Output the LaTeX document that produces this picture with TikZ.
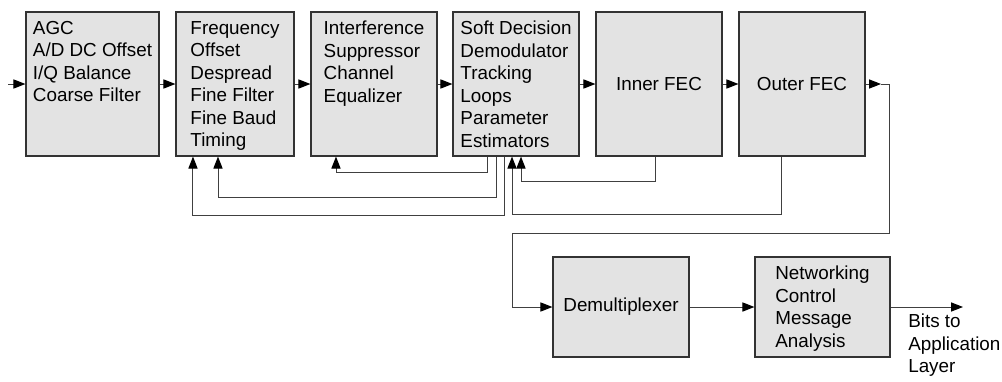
\documentclass[tikz,border=0pt]{standalone}
\usepackage{fontspec}
\setmainfont{Liberation Sans}
\usetikzlibrary{arrows.meta}

\tikzset{
  blk/.style={draw=black!80, line width=0.8pt, fill=black!11, inner sep=0pt},
  txt/.style={align=left, inner sep=0pt, anchor=north, font=\fontsize{13.4}{16}\selectfont},
  wire/.style={draw=black!75, line width=0.7pt},
  arr/.style={wire, -{Triangle[length=8.5pt,width=6.5pt,fill=black,color=black]}}
}

\begin{document}
\begin{tikzpicture}[x=0.025cm, y=-0.025cm]
            \useasboundingbox (0,0) rectangle (1002,382);

            % Top row of blocks
            \node[blk, minimum width=3.325cm, minimum height=3.6cm] (agc) at (92.5,84) {};
            \node[blk, minimum width=2.95cm, minimum height=3.6cm] (freq) at (235,84) {};
            \node[blk, minimum width=3.15cm, minimum height=3.6cm] (intf) at (374,84) {};
            \node[blk, minimum width=3.15cm, minimum height=3.6cm] (soft) at (516,84) {};
            \node[blk, minimum width=3.15cm, minimum height=3.6cm, font=\fontsize{13.4}{16}\selectfont] (inner) at (659,84) {Inner FEC};
            \node[blk, minimum width=3.15cm, minimum height=3.6cm, font=\fontsize{13.4}{16}\selectfont] (outer) at (802,84) {Outer FEC};

            % Texts at the top of the blocks
            \node[txt] (agc-t) at ([yshift=-0.24cm]agc.north) {AGC\\A/D DC Offset\\I/Q Balance\\Coarse Filter};
            \node[txt] (freq-t) at ([yshift=-0.24cm]freq.north) {Frequency\\Offset\\Despread\\Fine Filter\\Fine Baud\\Timing};
            \node[txt] (intf-t) at ([yshift=-0.24cm]intf.north) {Interference\\Suppressor\\Channel\\Equalizer};
            \node[txt] (soft-t) at ([yshift=-0.24cm]soft.north) {Soft Decision\\Demodulator\\Tracking\\Loops\\Parameter\\Estimators};

            % Bottom row of blocks
            \node[blk, minimum width=3.4cm, minimum height=2.5cm, font=\fontsize{13.4}{16}\selectfont] (demux) at (621,307) {Demultiplexer};
            \node[blk, minimum width=3.375cm, minimum height=2.5cm] (net) at (822.5,307) {};
            \node[txt] (net-t) at ([yshift=-0.24cm]net.north) {Networking\\Control\\Message\\Analysis};

            % Forward path
            \coordinate (in) at (8,84);
            \draw[arr] (in) -- (agc.west);
            \draw[arr] (agc) -- (freq);
            \draw[arr] (freq) -- (intf);
            \draw[arr] (intf) -- (soft);
            \draw[arr] (soft) -- (inner);
            \draw[arr] (inner) -- (outer);
            \coordinate (o1) at (881,84);
            \coordinate (o2) at (889,84);
            \coordinate (o3) at (512,233);
            \draw[arr] (outer) -- (o1);
            \draw[arr] (o1) -- (o2) |- (o3) |- (demux.west);
            \draw[arr] (demux) -- (net);
            \coordinate (out) at (963,307);
            \draw[arr] (net.east) -- (out);
            \node[txt, anchor=north west] (bits) at (908,314) {Bits to\\Application\\Layer};

            % Feedback loops
            \draw[arr] ([xshift=-0.725cm]soft.south) -- ++(0,16) -| ([xshift=-0.95cm]intf.south);
            \draw[arr] ([xshift=-0.5cm]soft.south) -- ++(0,41) -| ([xshift=-0.425cm]freq.south);
            \draw[arr] ([xshift=-0.3cm]soft.south) -- ++(0,59) -| ([xshift=-1.05cm]freq.south);
            \draw[arr] ([xshift=-0.1cm]inner.south) -- ++(0,25) -| ([xshift=0.125cm]soft.south);
            \draw[arr] ([xshift=-0.525cm]outer.south) -- ++(0,58) -| ([xshift=-0.1cm]soft.south);
\end{tikzpicture}
\end{document}
